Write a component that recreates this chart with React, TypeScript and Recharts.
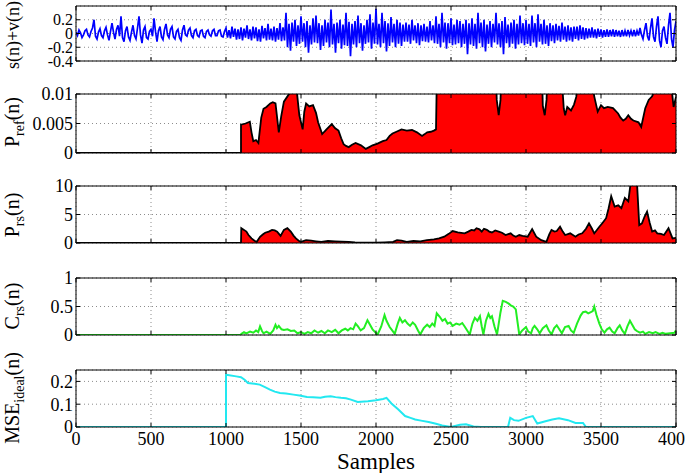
import React from 'react';
import { ComposedChart, Line, Area, XAxis, YAxis, CartesianGrid } from 'recharts';

const FONT = '"Liberation Serif", "Times New Roman", serif';

const xTicks = [0, 500, 1000, 1500, 2000, 2500, 3000, 3500, 4000];
const sigTicks = [-0.4, -0.2, 0, 0.2];
const prefTicks = [0, 0.005, 0.01];
const prsTicks = [0, 5, 10];
const crsTicks = [0, 0.5, 1];
const mseTicks = [0, 0.1, 0.2];

// s(n)+v(n): one reading every 10 samples, 0..4000
const sigStep = 10;
const sigValues = [
  0.02, -0.03, 0.05, 0.01, -0.06, -0.02, 0.04, 0.06, -0.02, -0.05, 0.03, 0.08, 0.2, -0.04, -0.08, 0.02, 0.07, -0.03, -0.06, 0.04,
  0.09, -0.02, -0.1, 0.03, 0.15, 0.02, -0.08, 0.06, 0.12, -0.04, 0.25, -0.06, -0.12, 0.04, 0.1, -0.05, -0.1, 0.02, 0.12, -0.03,
  -0.08, 0.08, 0.25, -0.02, -0.14, 0.05, 0.1, -0.06, -0.08, 0.03, 0.06, -0.04, 0.22, 0.03, -0.12, 0.04, 0.1, -0.05, -0.09, 0.06,
  0.14, -0.02, -0.06, 0.06, 0.1, -0.05, -0.08, 0.03, 0.06, -0.06, -0.1, 0.05, 0.12, -0.02, -0.04, 0.05, 0.08, -0.03, -0.06, 0.04,
  0.06, -0.03, -0.05, 0.04, 0.05, -0.04, -0.06, 0.03, 0.05, -0.02, -0.04, 0.04, 0.06, -0.03, -0.03, 0.04, 0.05, -0.04, -0.05, 0.03,
  0.08, -0.06, 0.05, -0.07, 0.1, -0.05, 0.07, -0.09, 0.06, -0.08, 0.09, -0.1, 0.07, -0.06, 0.12, -0.08, 0.06, -0.1, 0.1, -0.07,
  0.09, -0.11, 0.06, -0.12, 0.11, -0.07, 0.08, -0.1, 0.14, -0.09, 0.07, -0.1, 0.1, -0.12, 0.08, -0.09, 0.15, -0.11, 0.09, -0.1,
  0.3, -0.2, 0.14, -0.25, 0.16, -0.12, 0.2, -0.18, 0.12, -0.15, 0.25, -0.12, 0.15, -0.2, 0.18, -0.28, 0.12, -0.16, 0.22, -0.13,
  0.26, -0.14, 0.15, -0.24, 0.12, -0.18, 0.2, -0.13, 0.16, -0.2, 0.35, -0.16, 0.14, -0.28, 0.16, -0.14, 0.2, -0.22, 0.13, -0.17,
  0.3, -0.18, 0.17, -0.33, 0.14, -0.16, 0.18, -0.2, 0.26, -0.14, 0.15, -0.25, 0.12, -0.15, 0.2, -0.13, 0.28, -0.22, 0.16, -0.15,
  0.36, -0.16, 0.14, -0.2, 0.3, -0.14, 0.18, -0.26, 0.15, -0.18, 0.24, -0.13, 0.14, -0.2, 0.2, -0.15, 0.16, -0.18, 0.13, -0.12,
  0.16, -0.12, 0.13, -0.15, 0.2, -0.1, 0.12, -0.14, 0.15, -0.17, 0.12, -0.11, 0.14, -0.12, 0.1, -0.13, 0.18, -0.1, 0.12, -0.14,
  0.25, -0.15, 0.14, -0.2, 0.3, -0.13, 0.16, -0.22, 0.15, -0.14, 0.22, -0.17, 0.13, -0.16, 0.2, -0.14, 0.18, -0.2, 0.14, -0.15,
  0.2, -0.3, 0.15, -0.16, 0.22, -0.18, 0.14, -0.22, 0.3, -0.14, 0.16, -0.2, 0.2, -0.26, 0.13, -0.15, 0.18, -0.2, 0.14, -0.13,
  0.3, -0.16, 0.15, -0.2, 0.18, -0.3, 0.24, -0.14, 0.13, -0.2, 0.16, -0.15, 0.2, -0.22, 0.14, -0.16, 0.26, -0.14, 0.15, -0.17,
  0.2, -0.15, 0.14, -0.18, 0.26, -0.13, 0.15, -0.2, 0.28, -0.12, 0.14, -0.16, 0.2, -0.15, 0.12, -0.18, 0.15, -0.11, 0.12, -0.14,
  0.14, -0.1, 0.11, -0.12, 0.16, -0.09, 0.1, -0.12, 0.12, -0.1, 0.09, -0.12, 0.1, -0.08, 0.1, -0.1, 0.12, -0.08, 0.09, -0.09,
  0.08, -0.07, 0.07, -0.06, 0.09, -0.06, 0.06, -0.07, 0.07, -0.05, 0.06, -0.06, 0.05, -0.05, 0.06, -0.05, 0.05, -0.04, 0.06, -0.05,
  0.05, -0.04, 0.04, -0.05, 0.05, -0.04, 0.04, -0.04, 0.05, -0.03, 0.04, -0.04, 0.05, -0.04, 0.04, -0.03, 0.08, -0.02, -0.08, 0.05,
  0.15, -0.04, -0.1, 0.08, 0.22, -0.05, -0.12, 0.1, 0.25, -0.1, -0.2, 0.04, 0.1, -0.06, -0.15, 0.12, 0.3, -0.08, -0.2, 0.05,
  0.18,
];

const prefPoints: [number, number][] = [
  [0, 0], [1100, 0], [1100, 0.0048], [1130, 0.005], [1159, 0.0053], [1170, 0.0035], [1182, 0.002], [1200, 0.0022], [1216, 0.0017],
  [1235, 0.006], [1250, 0.0075], [1270, 0.0078], [1295, 0.0084], [1312, 0.0086], [1330, 0.0084], [1352, 0.0035], [1368, 0.0062], [1386, 0.0087],
  [1420, 0.01], [1445, 0.012], [1466, 0.012], [1480, 0.0085], [1489, 0.0064], [1511, 0.004], [1522, 0.007],
  [1534, 0.0084], [1555, 0.0079], [1580, 0.0081], [1600, 0.0068], [1614, 0.0052], [1641, 0.0032], [1655, 0.0036], [1670, 0.004],
  [1705, 0.0049], [1728, 0.0042], [1750, 0.0038], [1768, 0.0025], [1784, 0.0015], [1800, 0.0012], [1818, 0.001], [1840, 0.0014], [1864, 0.0017],
  [1900, 0.0013], [1932, 0.0007], [1955, 0.001], [1977, 0.0013], [2010, 0.0016], [2045, 0.002], [2070, 0.0022], [2091, 0.0029], [2110, 0.0033], [2136, 0.0036],
  [2170, 0.004], [2205, 0.0038], [2240, 0.0039], [2273, 0.0035], [2307, 0.0029], [2325, 0.0032], [2341, 0.0035], [2365, 0.0036], [2386, 0.0038],
  [2400, 0.004], [2410, 0.02], [2790, 0.02], [2805, 0.009], [2818, 0.0064],
  [2830, 0.009], [2845, 0.02], [3100, 0.02], [3112, 0.008], [3125, 0.0064],
  [3137, 0.009], [3150, 0.02], [3240, 0.012], [3252, 0.0075], [3261, 0.0064],
  [3275, 0.0078], [3300, 0.0072], [3320, 0.0082], [3335, 0.0095], [3345, 0.012],
  [3440, 0.012], [3455, 0.0096], [3478, 0.007], [3500, 0.0081], [3520, 0.0076], [3545, 0.0078],
  [3580, 0.0076], [3614, 0.0067], [3630, 0.006], [3648, 0.0055], [3665, 0.0058], [3682, 0.0064], [3700, 0.0058], [3716, 0.0055],
  [3750, 0.0052], [3768, 0.0044], [3795, 0.0076], [3818, 0.009], [3841, 0.0096],
  [3875, 0.012], [3966, 0.012], [3984, 0.0078], [4000, 0.0095],
];

const prsPoints: [number, number][] = [
  [0, 0], [1100, 0], [1102, 2.6], [1120, 2.3], [1136, 2.0], [1150, 1.4], [1170, 0.8], [1190, 0.4], [1205, 0.2], [1227, 1.1],
  [1245, 1.5], [1261, 1.8], [1285, 2.0], [1307, 2.3], [1325, 2.2], [1341, 2.0], [1364, 1.25], [1386, 2.3], [1409, 2.6],
  [1432, 2.0], [1450, 1.3], [1466, 0.8], [1485, 0.4], [1500, 0.2], [1534, 0.5], [1568, 0.4], [1600, 0.3], [1636, 0.2],
  [1680, 0.35], [1727, 0.3], [1770, 0.25], [1818, 0.2], [1860, 0.12], [1909, 0.06], [2000, 0.05], [2060, 0.12], [2114, 0.2], [2140, 0.5], [2170, 0.4],
  [2205, 0.2], [2250, 0.35], [2295, 0.3], [2340, 0.5], [2386, 0.65], [2420, 0.8], [2455, 1.1], [2485, 1.6], [2511, 2.1], [2545, 1.85],
  [2591, 1.7], [2615, 2.0], [2636, 2.3], [2655, 2.2], [2670, 2.6], [2690, 2.4], [2705, 2.0], [2720, 2.5], [2739, 2.3], [2755, 2.0], [2773, 1.85],
  [2795, 2.2], [2818, 2.0], [2840, 1.8], [2864, 1.4], [2898, 1.7], [2915, 1.3], [2932, 1.1], [2955, 1.4], [2977, 1.25], [3011, 1.1],
  [3041, 2.45], [3068, 1.1], [3102, 0.5], [3136, 0.2], [3155, 1.5], [3170, 2.3], [3190, 2.0], [3205, 2.1],
  [3227, 2.85], [3245, 2.0], [3261, 1.4], [3295, 1.7], [3330, 1.1], [3350, 1.5], [3375, 1.7], [3400, 2.5], [3420, 3.45],
  [3440, 2.5], [3455, 1.7], [3470, 2.2], [3489, 2.85], [3510, 3.5], [3534, 4.35], [3550, 6.0], [3568, 8.2], [3591, 6.4], [3615, 6.6], [3636, 6.1],
  [3659, 7.9], [3682, 7.3], [3700, 11], [3739, 11], [3755, 3.15], [3773, 3.45],
  [3790, 4.6], [3807, 5.5], [3825, 3.5], [3841, 2.0], [3860, 2.2], [3875, 1.7], [3900, 1.6], [3920, 1.4], [3950, 2.6], [3977, 0.8],
  [4000, 0.9],
];

const crsPoints: [number, number][] = [
  [0, 0], [1100, 0], [1102, 0.02], [1120, 0.05], [1136, 0.03], [1160, 0.06], [1182, 0.04], [1200, 0.08], [1215, 0.05], [1227, 0.15],
  [1240, 0.07], [1250, 0.03], [1270, 0.06], [1295, 0.02], [1315, 0.08], [1330, 0.18], [1340, 0.12], [1352, 0.16], [1370, 0.1],
  [1386, 0.09], [1410, 0.1], [1432, 0.07], [1455, 0.08], [1477, 0.03], [1500, 0.05], [1523, 0.02], [1545, 0.05], [1568, 0.03],
  [1590, 0.08], [1614, 0.04], [1636, 0.07], [1659, 0.03], [1680, 0.08], [1705, 0.05], [1728, 0.09], [1750, 0.03], [1772, 0.08],
  [1795, 0.11], [1812, 0.08], [1830, 0.12], [1848, 0.1], [1864, 0.2], [1880, 0.15], [1898, 0.08], [1920, 0.12], [1943, 0.26],
  [1960, 0.18], [1977, 0.1], [1994, 0.05], [2011, 0.01], [2035, 0.15], [2057, 0.35], [2070, 0.25], [2091, 0.14], [2108, 0.08],
  [2125, 0.02], [2145, 0.2], [2159, 0.3], [2176, 0.22], [2193, 0.26], [2210, 0.2], [2227, 0.16], [2245, 0.22], [2261, 0.18],
  [2280, 0.08], [2295, 0.01], [2318, 0.12], [2341, 0.18], [2358, 0.14], [2375, 0.2], [2390, 0.16], [2405, 0.38], [2425, 0.32],
  [2443, 0.25], [2460, 0.28], [2477, 0.2], [2494, 0.22], [2511, 0.16], [2535, 0.2], [2557, 0.18], [2575, 0.21], [2591, 0.15],
  [2608, 0.08], [2625, 0.01], [2643, 0.2], [2659, 0.3], [2676, 0.25], [2693, 0.33], [2705, 0.15], [2716, 0.01], [2733, 0.25],
  [2750, 0.37], [2762, 0.3], [2773, 0.33], [2790, 0.15], [2807, 0.01], [2830, 0.4], [2845, 0.6], [2865, 0.58], [2885, 0.55],
  [2898, 0.52], [2915, 0.5], [2932, 0.45], [2945, 0.2], [2955, 0.01], [2975, 0.08], [3000, 0.14], [3015, 0.06], [3034, 0.03],
  [3045, 0.12], [3057, 0.16], [3075, 0.1], [3091, 0.03], [3112, 0.12], [3136, 0.17], [3152, 0.08], [3170, 0.01], [3188, 0.12],
  [3205, 0.17], [3222, 0.1], [3239, 0.03], [3260, 0.14], [3284, 0.16], [3300, 0.08], [3318, 0.04], [3340, 0.2], [3364, 0.34],
  [3380, 0.4], [3398, 0.41], [3415, 0.38], [3432, 0.4], [3445, 0.42], [3455, 0.5], [3470, 0.35], [3489, 0.2], [3505, 0.1],
  [3523, 0.04], [3540, 0.1], [3557, 0.13], [3575, 0.06], [3591, 0.03], [3610, 0.12], [3625, 0.17], [3642, 0.08], [3659, 0.02],
  [3676, 0.15], [3693, 0.25], [3710, 0.17], [3725, 0.1], [3739, 0.07], [3760, 0.04], [3780, 0.06], [3795, 0.02], [3820, 0.05],
  [3845, 0.03], [3864, 0.05], [3890, 0.02], [3910, 0.04], [3932, 0.02], [3960, 0.03], [3989, 0.04], [4000, 0.08],
];

const msePoints: [number, number][] = [
  [0, 0], [1000, 0], [1000, 0.229], [1068, 0.222], [1100, 0.218], [1124, 0.207], [1146, 0.193],
  [1190, 0.19], [1225, 0.186], [1260, 0.175], [1293, 0.164], [1325, 0.155], [1360, 0.149], [1400, 0.147], [1450, 0.142], [1490, 0.138], [1540, 0.132],
  [1580, 0.13], [1630, 0.128], [1660, 0.133], [1698, 0.135], [1730, 0.131], [1766, 0.128], [1800, 0.126], [1833, 0.12], [1878, 0.11],
  [1946, 0.113], [2000, 0.117], [2047, 0.123], [2070, 0.128], [2103, 0.103],
  [2149, 0.077], [2194, 0.048], [2230, 0.04], [2261, 0.033], [2300, 0.028], [2351, 0.022], [2400, 0.014], [2441, 0.007],
  [2500, 0], [2560, 0.01], [2600, 0.012], [2650, 0.002], [2700, 0], [2880, 0],
  [2895, 0.04], [2920, 0.03], [2950, 0.027], [3000, 0.04], [3045, 0.048], [3075, 0.015],
  [3130, 0.025], [3175, 0.033], [3220, 0.038], [3280, 0.03], [3330, 0.018], [3380, 0.018],
  [3400, 0], [4000, 0],
];

const toRows = (pts: [number, number][]) => pts.map(([x, y]) => ({ x, y }));
const sigRows = sigValues.map((y, i) => ({ x: i * sigStep, y }));

const tickStyle = { fill: '#000', fontSize: 18, fontFamily: FONT };
const smallTickStyle = { fill: '#000', fontSize: 16, fontFamily: FONT };

function YTitle(props: any) {
  const { cy, main, sub, tail, size } = props;
  const fs = size || 20;
  return (
    <text
      transform={`translate(19,${cy}) rotate(-90)`}
      textAnchor="middle"
      fontFamily={FONT}
      fontSize={fs}
      fill="#000"
    >
      {main}
      {sub ? (
        <tspan dy={5} fontSize={14}>
          {sub}
        </tspan>
      ) : null}
      {tail ? <tspan dy={sub ? -5 : 0}>{tail}</tspan> : null}
    </text>
  );
}

function Panel(props: any) {
  const { data, top, bottom, domain, yTicks, last, title, children, yTick } = props;
  const hb = last ? 46 : 1;
  const blank = () => '';
  return (
    <div style={{ position: 'absolute', left: 0, top: 0 }}>
      <ComposedChart
        width={685}
        height={473}
        data={data}
        margin={{ top: top - 1, right: 8, bottom: 473 - bottom - hb, left: 0 }}
      >
        <CartesianGrid stroke="#8c8c8c" strokeDasharray="1 3" />
        <XAxis
          dataKey="x"
          type="number"
          domain={[0, 4000]}
          ticks={xTicks}
          interval={0}
          allowDataOverflow
          height={hb}
          tickSize={-4}
          tickMargin={last ? 9 : 0}
          tickFormatter={last ? undefined : blank}
          stroke="#000"
          tick={tickStyle}
          label={
            last
              ? { value: 'Samples', position: 'insideBottom', offset: 4, fill: '#000', fontSize: 23, fontFamily: FONT }
              : undefined
          }
        />
        <XAxis
          xAxisId="top"
          orientation="top"
          dataKey="x"
          type="number"
          domain={[0, 4000]}
          ticks={xTicks}
          interval={0}
          height={1}
          tickSize={-4}
          tickFormatter={blank}
          stroke="#000"
          tick={tickStyle}
        />
        <YAxis
          type="number"
          domain={domain}
          ticks={yTicks}
          interval={0}
          allowDataOverflow
          width={76}
          tickSize={-4}
          tickMargin={7}
          stroke="#000"
          tick={yTick || tickStyle}
          label={title}
        />
        <YAxis
          yAxisId="r"
          orientation="right"
          type="number"
          domain={domain}
          ticks={yTicks}
          interval={0}
          allowDataOverflow
          width={1}
          tickSize={-4}
          tickFormatter={blank}
          stroke="#000"
          tick={tickStyle}
        />
        {children}
      </ComposedChart>
    </div>
  );
}

export default function App() {
  return (
    <div style={{ position: 'absolute', left: 0, top: 0, width: 685, height: 473, background: '#fff', overflow: 'hidden' }}>
      <Panel
        data={sigRows}
        top={6}
        bottom={61}
        domain={[-0.4, 0.4]}
        yTicks={sigTicks}
        yTick={smallTickStyle}
        title={<YTitle cy={35} main="s(n)+v(n)" size={18} />}
      >
        <Line dataKey="y" type="linear" stroke="#0000ff" strokeWidth={1.7} dot={false} isAnimationActive={false} />
      </Panel>
      <Panel
        data={toRows(prefPoints)}
        top={94}
        bottom={153}
        domain={[0, 0.01]}
        yTicks={prefTicks}
        title={<YTitle cy={122} main="P" sub="ref" tail="(n)" />}
      >
        <Area dataKey="y" type="linear" stroke="#000" strokeWidth={1.8} fill="#ff0000" fillOpacity={1} dot={false} isAnimationActive={false} />
      </Panel>
      <Panel
        data={toRows(prsPoints)}
        top={186}
        bottom={243}
        domain={[0, 10]}
        yTicks={prsTicks}
        title={<YTitle cy={215} main="P" sub="rs" tail="(n)" />}
      >
        <Area dataKey="y" type="linear" stroke="#000" strokeWidth={1.8} fill="#ff0000" fillOpacity={1} dot={false} isAnimationActive={false} />
      </Panel>
      <Panel
        data={toRows(crsPoints)}
        top={278}
        bottom={335}
        domain={[0, 1]}
        yTicks={crsTicks}
        title={<YTitle cy={306} main="C" sub="rs" tail="(n)" />}
      >
        <Line dataKey="y" type="linear" stroke="#22ee22" strokeWidth={2} dot={false} isAnimationActive={false} />
      </Panel>
      <Panel
        data={toRows(msePoints)}
        top={370}
        bottom={427}
        domain={[0, 0.25]}
        yTicks={mseTicks}
        last
        title={<YTitle cy={398} main="MSE" sub="ideal" tail="(n)" />}
      >
        <Line dataKey="y" type="linear" stroke="#22e8f0" strokeWidth={2} dot={false} isAnimationActive={false} />
      </Panel>
    </div>
  );
}
